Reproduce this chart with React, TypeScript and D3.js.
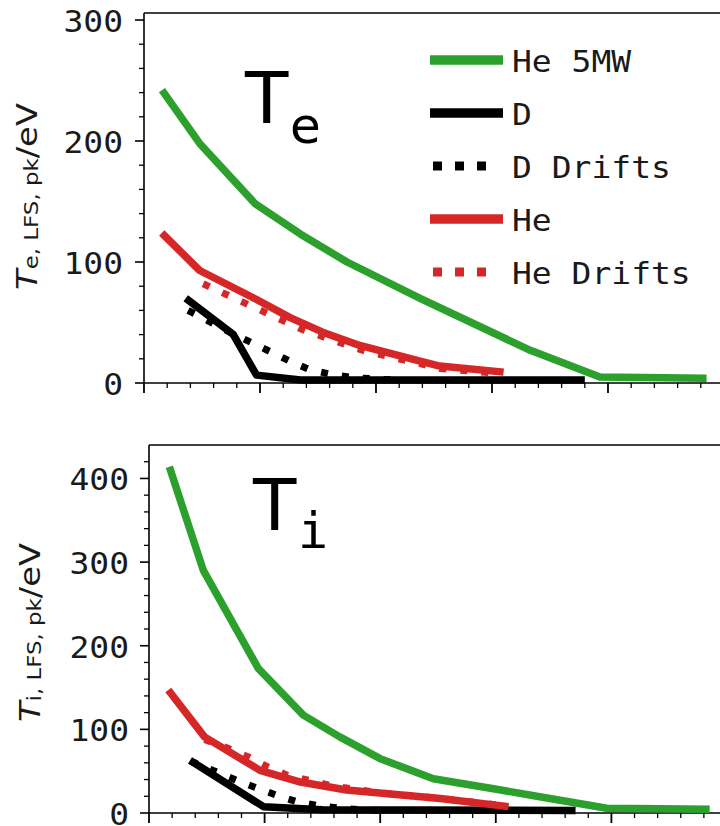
import React from "react";
import * as d3 from "d3";

// ---- Data (x in major-tick units, y in eV) ----
const teHe5MW: [number, number][] = [[0.155, 242], [0.48, 198], [0.96, 148], [1.35, 123], [1.75, 100], [2.38, 70], [3.33, 27], [3.93, 5], [4.85, 4]];
const teD: [number, number][] = [[0.36, 70], [0.77, 40], [0.97, 6.5], [1.35, 2.5], [3.8, 2.5]];
const teDDrifts: [number, number][] = [[0.38, 60], [0.74, 42], [1.26, 18], [1.43, 11], [1.62, 7], [1.8, 4.5], [2.15, 2.5]];
const teHe: [number, number][] = [[0.153, 124], [0.48, 93], [0.97, 69], [1.26, 54], [1.54, 42], [1.86, 31], [2.38, 18], [2.55, 14], [3.1, 9]];
const teHeDrifts: [number, number][] = [[0.51, 82], [1.03, 59], [1.37, 44], [1.73, 32], [1.92, 26], [2.38, 16], [2.55, 12], [3.05, 8]];

const tiHe5MW: [number, number][] = [[0.176, 414], [0.47, 290], [0.945, 173], [1.335, 117], [1.65, 91], [2.0, 65], [2.46, 41], [2.98, 29], [3.38, 19.5], [3.96, 5.6], [4.85, 4.4]];
const tiD: [number, number][] = [[0.355, 63], [0.99, 7.6], [1.5, 4], [3.69, 3]];
const tiDDrifts: [number, number][] = [[0.36, 62], [0.57, 50], [0.76, 39], [0.93, 30], [1.12, 20.5], [1.29, 13], [1.48, 8.4], [1.67, 5.6], [1.85, 3.6], [2.1, 3]];
const tiHe: [number, number][] = [[0.167, 147], [0.48, 91], [0.96, 51], [1.31, 37], [1.71, 27.5], [2.52, 17.3], [3.11, 7.6]];
const tiHeDrifts: [number, number][] = [[0.48, 88], [0.69, 77], [0.86, 67], [1.03, 55], [1.2, 45], [1.6, 32], [2.0, 24], [2.52, 17.5], [3.11, 8]];

const legendLabels = ["He 5MW", "D", "D Drifts", "He", "He Drifts"];
const teYTicks = [0, 100, 200, 300];
const tiYTicks = [0, 100, 200, 300, 400];
const xMajorTicks = [0, 1, 2, 3, 4, 5];

const GREEN = "#2ca02c";
const RED = "#d62728";
const BLACK = "#000000";
const MONO = "DejaVu Sans Mono";
const SANS = "DejaVu Sans";

type Series = { data: [number, number][]; color: string; dotted: boolean };

function Panel(props: {
  x: d3.ScaleLinear<number, number>;
  y: d3.ScaleLinear<number, number>;
  yMax: number;
  yTicks: number[];
  series: Series[];
  tickLabelEnd: number;
  ylabelX: number;
  ylabelY: number;
  ylabelLen: number;
  sub: string;
}) {
  const { x, y, yMax, yTicks, series, tickLabelEnd, ylabelX, ylabelY, ylabelLen, sub } = props;
  const [x0] = x.range();
  const yb = y(0);
  const yt = y(yMax);
  const line = d3.line<[number, number]>().x((d) => x(d[0])).y((d) => y(d[1]));
  const minorY = d3.range(0, yMax, 20).filter((v) => v % 100 !== 0);
  const minorX = d3.range(0, 5.01, 0.2).filter((v) => Math.abs(v - Math.round(v)) > 0.01);
  return (
    <g>
      <line x1={x0} x2={x0} y1={yt} y2={yb} stroke="#000" strokeWidth={1.6} />
      <line x1={x0} x2={740} y1={yt} y2={yt} stroke="#000" strokeWidth={1.6} />
      <line x1={x0} x2={740} y1={yb} y2={yb} stroke="#000" strokeWidth={1.6} />
      {yTicks.map((t) => (
        <g key={"yt" + t}>
          <line x1={x0 - 9} x2={x0} y1={y(t)} y2={y(t)} stroke="#000" strokeWidth={1.6} />
          <text
            transform={`translate(${tickLabelEnd},${y(t) + 12}) scale(1.1,1)`}
            textAnchor="end"
            fontFamily={MONO}
            fontSize={30}
            fill="#1a1a1a"
          >
            {String(t)}
          </text>
        </g>
      ))}
      {minorY.map((t) => (
        <line key={"ym" + t} x1={x0 - 5} x2={x0} y1={y(t)} y2={y(t)} stroke="#000" strokeWidth={1.3} />
      ))}
      {xMajorTicks.map((t) => (
        <line key={"xt" + t} x1={x(t)} x2={x(t)} y1={yb} y2={yb + 10} stroke="#000" strokeWidth={1.8} />
      ))}
      {minorX.map((t) => (
        <line key={"xm" + t} x1={x(t)} x2={x(t)} y1={yb} y2={yb + 5} stroke="#000" strokeWidth={1.3} />
      ))}
      {series.map((s, i) => (
        <path
          key={"s" + i}
          d={line(s.data) || ""}
          fill="none"
          stroke={s.color}
          strokeWidth={s.dotted ? 7 : 7.5}
          strokeDasharray={s.dotted ? "7 14" : undefined}
          strokeLinejoin="round"
        />
      ))}
      <text
        transform={`translate(${ylabelX},${ylabelY}) rotate(-90)`}
        textAnchor="middle"
        fontFamily={SANS}
        fontSize={28}
        fill="#1a1a1a"
        textLength={ylabelLen}
        lengthAdjust="spacingAndGlyphs"
      >
        <tspan fontStyle="italic">T</tspan>
        <tspan fontSize={19} dy={1}>{sub + ", LFS, pk"}</tspan>
        <tspan dy={-1}>/eV</tspan>
      </text>
    </g>
  );
}

export default function App() {
  const xTop = d3.scaleLinear().domain([0, 5]).range([144, 724]);
  const yTop = d3.scaleLinear().domain([0, 305.8]).range([383, 13]);
  const xBot = d3.scaleLinear().domain([0, 5]).range([149, 727]);
  const yBot = d3.scaleLinear().domain([0, 440]).range([813, 445]);

  const topSeries: Series[] = [
    { data: teHe5MW, color: GREEN, dotted: false },
    { data: teD, color: BLACK, dotted: false },
    { data: teDDrifts, color: BLACK, dotted: true },
    { data: teHe, color: RED, dotted: false },
    { data: teHeDrifts, color: RED, dotted: true },
  ];
  const botSeries: Series[] = [
    { data: tiHe5MW, color: GREEN, dotted: false },
    { data: tiD, color: BLACK, dotted: false },
    { data: tiDDrifts, color: BLACK, dotted: true },
    { data: tiHe, color: RED, dotted: false },
    { data: tiHeDrifts, color: RED, dotted: true },
  ];
  const legendColors = [GREEN, BLACK, BLACK, RED, RED];
  const legendDotted = [false, false, true, false, true];
  const legendY = d3.scaleLinear().domain([0, 4]).range([60, 272]);

  return (
    <svg
      width={720}
      height={826}
      style={{ position: "absolute", left: 0, top: 0, background: "#fff" }}
    >
      <rect x={0} y={0} width={720} height={826} fill="#fff" />
      <Panel
        x={xTop}
        y={yTop}
        yMax={305.8}
        yTicks={teYTicks}
        series={topSeries}
        tickLabelEnd={123}
        ylabelX={37}
        ylabelY={196.5}
        ylabelLen={187}
        sub="e"
      />
      <Panel
        x={xBot}
        y={yBot}
        yMax={440}
        yTicks={tiYTicks}
        series={botSeries}
        tickLabelEnd={129}
        ylabelX={40}
        ylabelY={632.5}
        ylabelLen={179}
        sub="i"
      />
      {legendLabels.map((lab, i) => (
        <g key={"lg" + i}>
          <line
            x1={legendDotted[i] ? 433 : 430}
            x2={legendDotted[i] ? 490 : 503}
            y1={legendY(i)}
            y2={legendY(i)}
            stroke={legendColors[i]}
            strokeWidth={legendDotted[i] ? 9 : 9.5}
            strokeDasharray={legendDotted[i] ? "9 13" : undefined}
          />
          <text
            transform={`translate(512,${legendY(i) + 11.5}) scale(1.1,1)`}
            fontFamily={MONO}
            fontSize={30}
            fill="#1a1a1a"
            style={{ whiteSpace: "pre" }}
          >
            {lab}
          </text>
        </g>
      ))}
      <text x={245} y={123} fontFamily={SANS} fontSize={71} fill="#000">T</text>
      <text x={290} y={143} fontFamily={SANS} fontSize={50} fill="#000">e</text>
      <text x={253} y={530} fontFamily={SANS} fontSize={71} fill="#000">T</text>
      <text x={298} y={548} fontFamily={MONO} fontSize={50} fill="#000">i</text>
    </svg>
  );
}
